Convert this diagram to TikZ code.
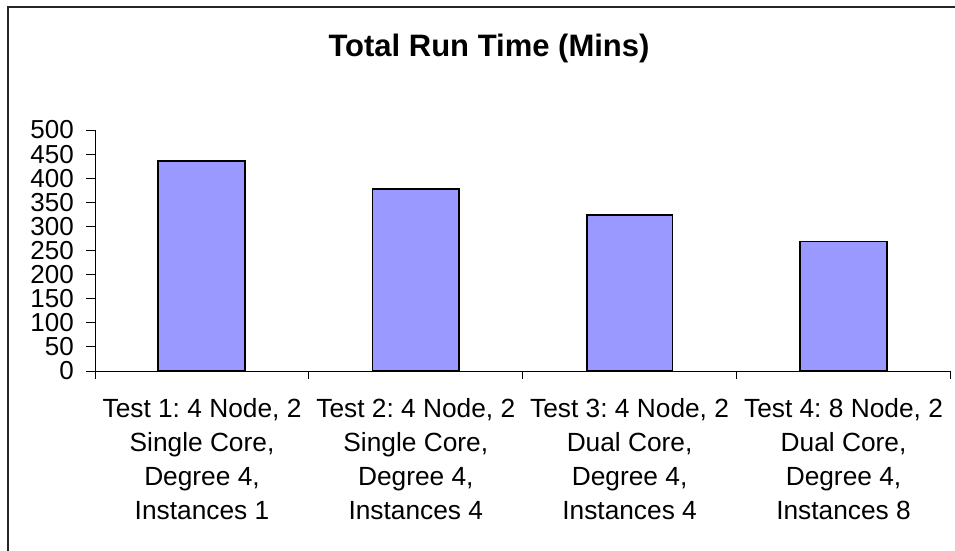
\documentclass[tikz,border=0pt]{standalone}
\usepackage{fontspec}
\setmainfont{Liberation Sans}
\frenchspacing
\definecolor{barfill}{HTML}{9999FF}
\begin{document}
\begin{tikzpicture}[x=1pt,y=-1pt,
  axisline/.style={draw=black,line width=1pt},
  barbox/.style={draw=black,line width=1.6pt,fill=barfill},
  ylab/.style={anchor=east,inner sep=0pt,font=\fontsize{26}{26}\selectfont},
  catlab/.style={anchor=north,inner sep=0pt,align=center,font=\fontsize{26.3}{34}\selectfont\frenchspacing},
  titlelab/.style={anchor=base,inner sep=0pt,font=\fontsize{31}{31}\selectfont\bfseries}]
\useasboundingbox (0,0) rectangle (955,550);
\fill[white] (0,0) rectangle (955,550);
% outer frame (right and bottom edges lie outside the picture)
\draw[line width=1.3pt,black!85] (8,560) -- (8,7) -- (965,7);
% title
\node[titlelab] (title) at (489,56) {Total Run Time (Mins)};
% axes
\coordinate (o) at (95,371);
\coordinate (ytop) at (95,130);
\coordinate (xend) at (950.5,371);
% bars
\draw[barbox] (158,371) rectangle (245,161) node[pos=0.5] (b1) {};
\draw[barbox] (372.5,371) rectangle (459,189) node[pos=0.5] (b2) {};
\draw[barbox] (587,371) rectangle (672.5,215) node[pos=0.5] (b3) {};
\draw[barbox] (800,371) rectangle (887,241.5) node[pos=0.5] (b4) {};
\draw[axisline] (ytop) -- (o) -- (xend);
% y ticks and labels
\foreach \v [count=\i from 0] in {0,50,...,500} {
  \pgfmathsetmacro{\yy}{371-\v*0.482}
  \draw[axisline] (86,\yy) -- (95,\yy);
  \node[ylab] (yl\i) at (74,\yy) {\v};
}
% x ticks
\foreach \xx in {95,308.9,522.7,736.6,950.5} {
  \draw[axisline] (\xx,371) -- (\xx,379);
}
% category labels
\node[catlab] (c1) at (202,398) {Test 1: 4 Node, 2\\Single Core,\\Degree 4,\\Instances 1};
\node[catlab] (c2) at (415.8,398) {Test 2: 4 Node, 2\\Single Core,\\Degree 4,\\Instances 4};
\node[catlab] (c3) at (629.6,398) {Test 3: 4 Node, 2\\Dual Core,\\Degree 4,\\Instances 4};
\node[catlab] (c4) at (843.5,398) {Test 4: 8 Node, 2\\Dual Core,\\Degree 4,\\Instances 8};
\end{tikzpicture}
\end{document}
